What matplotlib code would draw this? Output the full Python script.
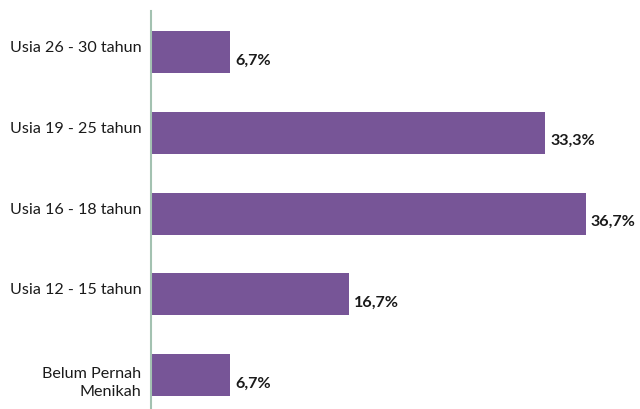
import matplotlib.pyplot as plt
from matplotlib.transforms import ScaledTranslation

categories = ['Belum Pernah\nMenikah', 'Usia 12 - 15 tahun', 'Usia 16 - 18 tahun',
              'Usia 19 - 25 tahun', 'Usia 26 - 30 tahun']
values = [6.7, 16.7, 36.7, 33.3, 6.7]
value_labels = ['6,7%', '16,7%', '36,7%', '33,3%', '6,7%']

plt.rcParams['font.family'] = ['Lato', 'DejaVu Sans']

fig = plt.figure(figsize=(6.4, 4.09), dpi=100)
ax = fig.add_axes([151 / 640, 0, 1 - 151 / 640, 398 / 409])

pos = list(range(len(categories)))
ax.barh(pos, values, height=0.52, color='#775597')

for p, v, lab in zip(pos, values, value_labels):
    ax.annotate(lab, (v, p), xytext=(3.5, -6), textcoords='offset points',
                ha='left', va='center', fontsize=11.6, fontweight='bold', color='#1a1a1a')

ax.set_yticks(pos)
ax.set_yticklabels(categories, fontsize=11.6, color='#1a1a1a')
ax.tick_params(axis='y', length=0, pad=7)
ax.set_xticks([])
ax.set_xlim(0, 41.3)
ax.set_ylim(-0.42, 4.51)

# nudge the category labels a little, like the original
for t in ax.get_yticklabels():
    if '\n' in t.get_text():
        t.set_linespacing(1.4)
        dy = -0.04
    else:
        dy = 0.055
    t.set_transform(t.get_transform() + ScaledTranslation(0, dy, fig.dpi_scale_trans))

for s in ['top', 'right', 'bottom']:
    ax.spines[s].set_visible(False)
ax.spines['left'].set_color('#a3c2b1')
ax.spines['left'].set_linewidth(1.5)

fig.savefig('out.png', dpi=100)
